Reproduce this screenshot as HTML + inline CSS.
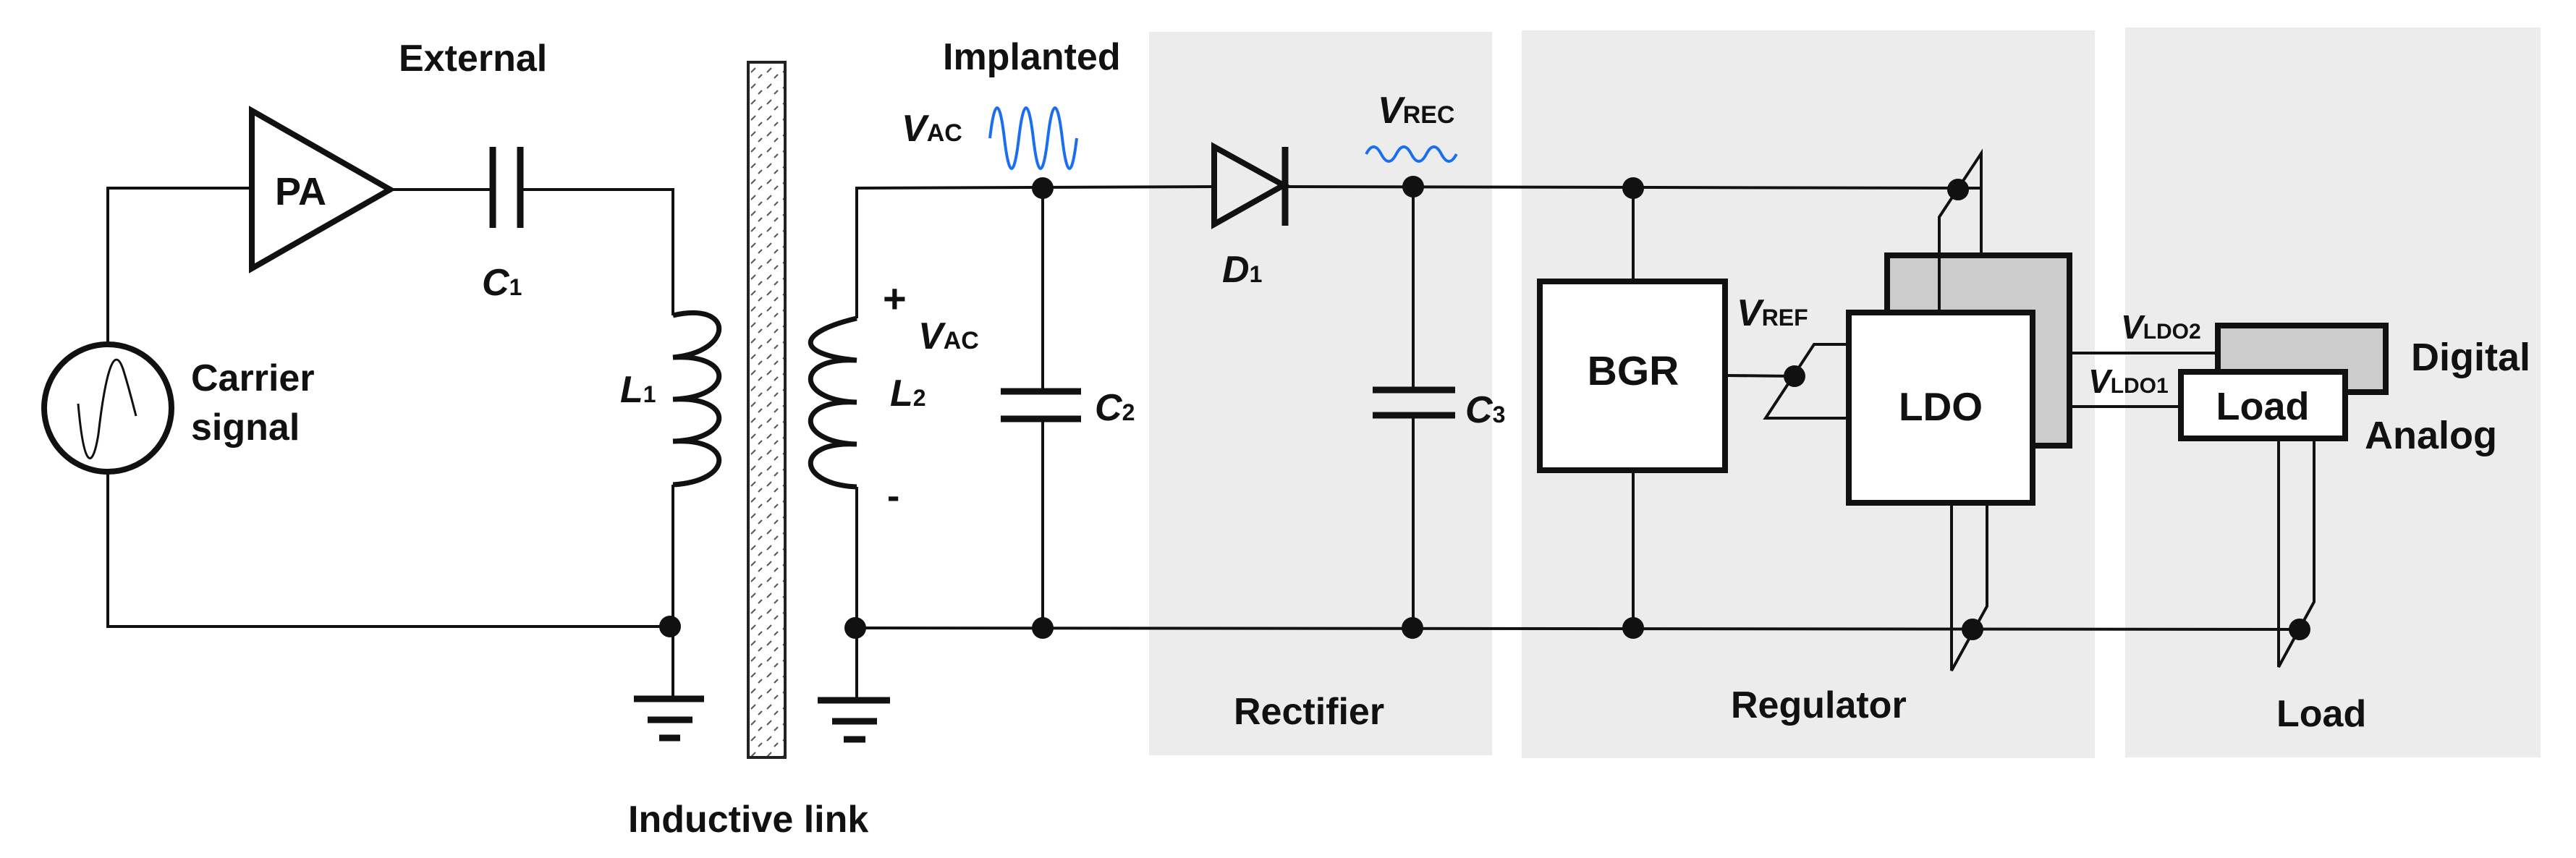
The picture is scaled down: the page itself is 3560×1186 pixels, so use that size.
<!DOCTYPE html>
<html><head><meta charset="utf-8"><style>
html,body{margin:0;padding:0;background:#fff;width:3560px;height:1186px;overflow:hidden}
svg{display:block}
text{font-family:"Liberation Sans",Arial,sans-serif;font-weight:bold;fill:#111}
.i{font-style:italic}
</style></head><body>
<svg width="3560" height="1186" viewBox="0 0 3560 1186" xmlns="http://www.w3.org/2000/svg">
<defs>
<pattern id="h" width="22" height="22" patternUnits="userSpaceOnUse">
<rect width="22" height="22" fill="#fff"/>
<path d="M4,12 L10,6 M14,20 L19,15" stroke="#555" stroke-width="2"/>
</pattern>
</defs>
<!-- shaded regions -->
<rect x="1588" y="44" width="474" height="1000" fill="#ececec"/>
<rect x="2103" y="42" width="792" height="1006" fill="#ececec"/>
<rect x="2937" y="38" width="574" height="1009" fill="#ececec"/>

<g fill="none" stroke="#111" stroke-width="4">
<!-- external loop -->
<polyline points="348,260 149,260 149,474"/>
<polyline points="149,654 149,866 926,866"/>
<polyline points="539,262 681,262"/>
<polyline points="719,262 930,262 930,436"/>
<polyline points="930,670 930,966"/>
<!-- implanted -->
<polyline points="1184,440 1184,260 1678,258"/>
<polyline points="1184,673 1184,968"/>
<polyline points="1441,260 1441,541"/>
<polyline points="1441,579 1441,868"/>
<polyline points="1776,258 2738,260"/>
<polyline points="1953,258 1953,539"/>
<polyline points="1953,574 1953,868"/>
<polyline points="1184,868 3178,870"/>
<polyline points="2257,260 2257,389"/>
<polyline points="2257,650 2257,868"/>
<!-- LDO supply crossover -->
<polyline points="2680,432 2680,300 2738,212 2738,353"/>
<!-- VREF -->
<polyline points="2384,519 2480,520"/>
<polyline points="2555,476 2507,476 2440,578 2555,578"/>
<!-- outputs -->
<polyline points="2860,488 3065,488"/>
<polyline points="2809,562 3014,562"/>
<!-- LDO ground -->
<polyline points="2697,695 2697,927 2746,838 2746,695"/>
<!-- load ground -->
<polyline points="3149,606 3149,922 3198,832 3198,606"/>
</g>

<!-- PA -->
<polygon points="348,153 348,371 539,262" fill="#fff" stroke="#111" stroke-width="8"/>
<!-- C1 -->
<g stroke="#111" stroke-width="9"><line x1="681" y1="203" x2="681" y2="315"/><line x1="719" y1="203" x2="719" y2="315"/>
<!-- C2 -->
<line x1="1383" y1="541" x2="1494" y2="541"/><line x1="1383" y1="579" x2="1494" y2="579"/>
<!-- C3 -->
<line x1="1897" y1="539" x2="2011" y2="539"/><line x1="1897" y1="574" x2="2011" y2="574"/>
<!-- grounds -->
<line x1="876" y1="966" x2="973" y2="966"/><line x1="895" y1="995" x2="957" y2="995"/><line x1="911" y1="1020" x2="940" y2="1020"/>
<line x1="1130" y1="968" x2="1230" y2="968"/><line x1="1150" y1="997" x2="1212" y2="997"/><line x1="1166" y1="1022" x2="1196" y2="1022"/>
<!-- diode bar -->
<line x1="1776" y1="203" x2="1776" y2="312"/>
</g>
<polygon points="1678,203 1678,310 1774,256" fill="none" stroke="#111" stroke-width="8"/>

<!-- source -->
<circle cx="149" cy="564" r="88" fill="#fff" stroke="#111" stroke-width="8"/>
<path d="M108,558 C116,650 128,650 136,600 C144,530 156,470 170,510 C178,535 184,560 188,575" fill="none" stroke="#111" stroke-width="3"/>

<!-- coils -->
<path d="M930,436 c85,-20 85,50 0,58 c85,-5 85,55 0,58 c85,-5 85,55 0,58 c85,-5 85,55 0,60" fill="none" stroke="#111" stroke-width="7"/>
<path d="M1184,440 c-85,20 -85,50 0,58 c-85,-5 -85,55 0,58 c-85,-5 -85,55 0,58 c-85,-5 -85,55 0,59" fill="none" stroke="#111" stroke-width="7"/>

<!-- inductive link bar -->
<rect x="1034" y="86" width="51" height="961" fill="url(#h)" stroke="#222" stroke-width="4"/>

<!-- waves -->
<path d="M1368,191 q10,-84 20,0 t20,0 t20,0 t20,0 t20,0 t20,0" fill="none" stroke="#1a6ff0" stroke-width="4"/>
<path d="M1888,213 q10.4,-20 20.8,0 t20.8,0 t20.8,0 t20.8,0 t20.8,0 t20.8,0" fill="none" stroke="#1a6ff0" stroke-width="4"/>

<!-- blocks -->
<rect x="2128" y="389" width="256" height="261" fill="#fff" stroke="#111" stroke-width="8"/>
<rect x="2608" y="353" width="252" height="263" fill="#cccccc" stroke="#111" stroke-width="8"/>
<rect x="2555" y="432" width="254" height="263" fill="#fff" stroke="#111" stroke-width="8"/>
<rect x="3065" y="450" width="232" height="92" fill="#cccccc" stroke="#111" stroke-width="8"/>
<rect x="3014" y="514" width="227" height="92" fill="#fff" stroke="#111" stroke-width="8"/>
<!-- redraw line into LDO top inside gray -->
<line x1="2680" y1="353" x2="2680" y2="432" stroke="#111" stroke-width="4"/>

<!-- dots -->
<g fill="#111">
<circle cx="926" cy="866" r="15"/>
<circle cx="1182" cy="868" r="15"/><circle cx="1441" cy="868" r="15"/><circle cx="1952" cy="868" r="15"/><circle cx="2257" cy="868" r="15"/>
<circle cx="2726" cy="870" r="15"/><circle cx="3178" cy="870" r="15"/>
<circle cx="1441" cy="260" r="15"/><circle cx="1953" cy="258" r="15"/><circle cx="2257" cy="260" r="15"/>
<circle cx="2706" cy="262" r="15"/><circle cx="2480" cy="520" r="15"/>
</g>

<!-- labels -->
<text x="551" y="98" font-size="52">External</text>
<text x="1303" y="96" font-size="52">Implanted</text>
<text x="380" y="283" font-size="54">PA</text>
<text x="264" y="540" font-size="52">Carrier</text>
<text x="264" y="608" font-size="52">signal</text>
<text x="666" y="408" font-size="52"><tspan class="i">C</tspan><tspan font-size="32">1</tspan></text>
<text x="857" y="556" font-size="52"><tspan class="i">L</tspan><tspan font-size="32">1</tspan></text>
<text x="1246" y="195" font-size="52"><tspan class="i">V</tspan><tspan font-size="34">AC</tspan></text>
<text x="1220" y="432" font-size="56">+</text>
<text x="1269" y="482" font-size="52"><tspan class="i">V</tspan><tspan font-size="34">AC</tspan></text>
<text x="1230" y="561" font-size="52"><tspan class="i">L</tspan><tspan font-size="32">2</tspan></text>
<text x="1226" y="703" font-size="52">-</text>
<text x="1513" y="581" font-size="52"><tspan class="i">C</tspan><tspan font-size="32">2</tspan></text>
<text x="1689" y="390" font-size="52"><tspan class="i">D</tspan><tspan font-size="32">1</tspan></text>
<text x="1904" y="170" font-size="52"><tspan class="i">V</tspan><tspan font-size="34">REC</tspan></text>
<text x="2025" y="584" font-size="52"><tspan class="i">C</tspan><tspan font-size="32">3</tspan></text>
<text x="2257" y="532" font-size="57" text-anchor="middle">BGR</text>
<text x="2400" y="450" font-size="52"><tspan class="i">V</tspan><tspan font-size="32">REF</tspan></text>
<text x="2682" y="581" font-size="55" text-anchor="middle">LDO</text>
<text x="2931" y="468" font-size="46"><tspan class="i">V</tspan><tspan font-size="30">LDO2</tspan></text>
<text x="2886" y="543" font-size="46"><tspan class="i">V</tspan><tspan font-size="30">LDO1</tspan></text>
<text x="3332" y="512" font-size="54">Digital</text>
<text x="3127" y="580" font-size="54" text-anchor="middle">Load</text>
<text x="3268" y="620" font-size="54">Analog</text>
<text x="1705" y="1001" font-size="52">Rectifier</text>
<text x="2392" y="992" font-size="52">Regulator</text>
<text x="3146" y="1004" font-size="52">Load</text>
<text x="868" y="1150" font-size="52">Inductive link</text>
</svg>
</body></html>
